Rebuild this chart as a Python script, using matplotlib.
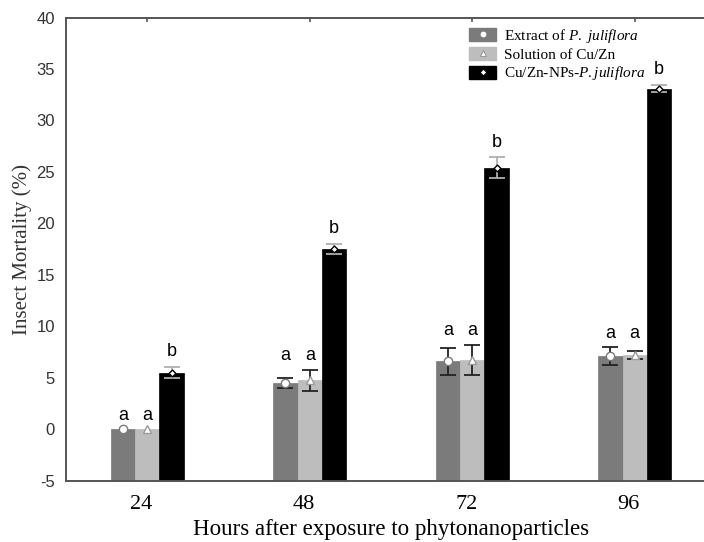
import matplotlib
matplotlib.use("Agg")
import matplotlib.pyplot as plt
from matplotlib.patches import Patch
from matplotlib.lines import Line2D
from matplotlib.transforms import ScaledTranslation
import numpy as np

plt.rcParams["mathtext.fontset"] = "custom"
plt.rcParams["mathtext.rm"] = "Liberation Serif"
plt.rcParams["mathtext.it"] = "Liberation Serif:italic"
plt.rcParams["axes.unicode_minus"] = False

# ================= DATA =================
hours = ["24", "48", "72", "96"]
series_names = ["Extract of $\\it{P.\\ juliflora}$",
                "Solution of Cu/Zn",
                "Cu/Zn-NPs-$\\it{P.juliflora}$"]

extract = [0.0, 4.5, 6.6, 7.1]
extract_err = [0.0, 0.5, 1.3, 0.85]
solution = [0.0, 4.75, 6.75, 7.2]
solution_err = [0.0, 1.0, 1.45, 0.4]
nps = [5.5, 17.5, 25.4, 33.1]
nps_err = [0.55, 0.5, 1.0, 0.35]

letters_extract = ["a", "a", "a", "a"]
letters_solution = ["a", "a", "a", "a"]
letters_nps = ["b", "b", "b", "b"]

# ================= STYLE =================
colors = ["#7b7b7b", "#bdbdbd", "#000000"]
markers = ["o", "^", "D"]
marker_edge = ["#7b7b7b", "#9a9a9a", "#000000"]
err_colors = ["#222222", "#222222", "#b0b0b0"]
serif = "Liberation Serif"
sans = "Liberation Sans"

fig = plt.figure(figsize=(7.04, 5.42), dpi=100)
ax = fig.add_axes([66 / 704, 61.3 / 542, 650 / 704, 463.2 / 542])

x = np.arange(len(hours))
w = 0.15
base = -5

all_vals = [extract, solution, nps]
all_errs = [extract_err, solution_err, nps_err]
all_letters = [letters_extract, letters_solution, letters_nps]

for k in range(3):
    vals = np.array(all_vals[k])
    errs = np.array(all_errs[k])
    xpos = x + (k - 1) * w
    ax.bar(xpos, vals - base, bottom=base, width=w, color=colors[k],
           edgecolor=colors[k], linewidth=0.5, zorder=2)
    m = errs > 0
    ax.errorbar(xpos[m], vals[m], yerr=errs[m], fmt="none", ecolor=err_colors[k],
                elinewidth=1.3, capsize=6, capthick=1.3, zorder=3)
    ms = 6 if k < 2 else 3.5
    ax.plot(xpos, vals, linestyle="none", marker=markers[k], markersize=ms,
            markerfacecolor="white", markeredgecolor=marker_edge[k],
            markeredgewidth=1.0, zorder=4)

# significance letters
for i in range(len(hours)):
    top_a = max(extract[i] + extract_err[i], solution[i] + solution_err[i])
    for k in range(2):
        ax.annotate(all_letters[k][i], (x[i] + (k - 1) * w, top_a),
                    xytext=(0, 4), textcoords="offset points",
                    ha="center", va="bottom", fontsize=13, family=sans, zorder=5)
    ax.annotate(letters_nps[i], (x[i] + w, nps[i] + nps_err[i]),
                xytext=(0, 5), textcoords="offset points",
                ha="center", va="bottom", fontsize=13, family=sans, zorder=5)

ax.set_xlim(-0.5, 3.5)
ax.set_ylim(-5, 40)
ax.set_yticks(np.arange(-5, 41, 5))
ax.set_xticks(x)
ax.set_xticklabels(hours, family=serif, fontsize=16)
for lab in ax.get_yticklabels():
    lab.set_family(sans)
    lab.set_fontsize(12)
    lab.set_color("#333333")
ax.tick_params(axis="y", length=0, pad=8)
ax.tick_params(axis="x", bottom=True, top=True, direction="in", length=3,
               width=1.2, color="#555555", pad=10)
offset = ScaledTranslation(-6 / 100, 0, fig.dpi_scale_trans)
for lab in ax.get_xticklabels():
    lab.set_transform(lab.get_transform() + offset)

for s in ax.spines.values():
    s.set_linewidth(1.4)
    s.set_color("#555555")

ax.set_xlabel("Hours after exposure to phytonanoparticles", family=serif,
              fontsize=16.5, labelpad=4)
ax.set_ylabel("Insect Mortality (%)", family=serif, fontsize=15, labelpad=3,
              color="#333333")

# legend with marker drawn on each patch
handles = []
for k in range(3):
    p = Patch(facecolor=colors[k], edgecolor=colors[k])
    ms = 5 if k < 2 else 3.5
    mk = Line2D([], [], linestyle="none", marker=markers[k], markersize=ms,
                markerfacecolor="white", markeredgecolor=marker_edge[k],
                markeredgewidth=0.8)
    handles.append((p, mk))
leg = fig.legend(handles, series_names, loc="upper left",
                 bbox_to_anchor=(469 / 704, 1 - 27 / 542), frameon=False,
                 borderpad=0, borderaxespad=0, handlelength=1.8,
                 handleheight=0.95, handletextpad=0.5, labelspacing=0.15,
                 prop={"family": serif, "size": 11})

fig.savefig("out.png", dpi=100)
